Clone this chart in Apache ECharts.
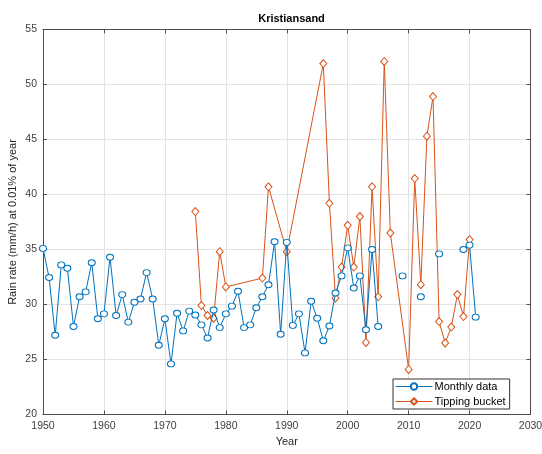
<!DOCTYPE html>
<html>
<head>
<meta charset="utf-8">
<script src="https://cdn.jsdelivr.net/npm/echarts@6/dist/echarts.min.js"></script>
<style>
  html, body { margin: 0; padding: 0; background: #fff; }
  #chart { width: 542px; height: 454px; }
</style>
</head>
<body>
<div id="chart"></div>
<script>
// Monthly-data estimate per year (null = no estimate, breaks the line)
const monthlyYears = [
  1950, 1951, 1952, 1953, 1954, 1955, 1956, 1957, 1958, 1959,
  1960, 1961, 1962, 1963, 1964, 1965, 1966, 1967, 1968, 1969,
  1970, 1971, 1972, 1973, 1974, 1975, 1976, 1977, 1978, 1979,
  1980, 1981, 1982, 1983, 1984, 1985, 1986, 1987, 1988, 1989,
  1990, 1991, 1992, 1993, 1994, 1995, 1996, 1997, 1998, 1999,
  2000, 2001, 2002, 2003, 2004, 2005, 2006, 2007, 2008, 2009,
  2010, 2011, 2012, 2013, 2014, 2015, 2016, 2017, 2018, 2019,
  2020, 2021
];
const monthlyValues = [
  35.1, 32.45, 27.2, 33.6, 33.3, 28.0, 30.7, 31.15, 33.8, 28.7,
  29.15, 34.3, 29.0, 30.9, 28.4, 30.2, 30.5, 32.9, 30.5, 26.3,
  28.7, 24.6, 29.2, 27.6, 29.4, 29.05, 28.15, 26.95, 29.5, 27.9,
  29.15, 29.85, 31.2, 27.9, 28.15, 29.7, 30.7, 31.8, 35.7, 27.3,
  35.65, 28.1, 29.15, 25.6, 30.3, 28.75, 26.7, 28.05, 31.05, 32.6,
  35.15, 31.5, 32.6, 27.7, 35.0, 28.0, null, null, null, 32.6,
  null, null, 30.7, null, null, 34.6, null, null, null, 35.0,
  35.4, 28.85
];

// Tipping-bucket estimate, only the years that have one
const bucketYears = [
  1975, 1976, 1977, 1978, 1979, 1980, 1986, 1987, 1990, 1996,
  1997, 1998, 1999, 2000, 2001, 2002, 2003, 2004, 2005, 2006,
  2007, 2010, 2011, 2012, 2013, 2014, 2015, 2016, 2017, 2018,
  2019, 2020
];
const bucketValues = [
  38.45, 29.9, 29.0, 28.75, 34.8, 31.6, 32.4, 40.7, 34.8, 51.9,
  39.2, 30.6, 33.4, 37.2, 33.4, 38.0, 26.55, 40.7, 30.7, 52.1,
  36.5, 24.1, 41.45, 31.8, 45.3, 48.9, 28.45, 26.5, 27.95, 30.9,
  28.9, 35.9
];

const titleText = 'Kristiansand';
const xName = 'Year';
const yName = 'Rain rate (mm/h) at 0.01% of year';
const seriesNames = ['Monthly data', 'Tipping bucket'];

const BLUE = '#0072BD';
const ORANGE = '#D95319';
const AXIS = '#4d4d4d';
const GRID = '#e3e3e3';
const FONT = '"Liberation Sans", Arial, Helvetica, sans-serif';

const monthlyData = monthlyYears.map((y, i) => [y, monthlyValues[i]]);
const bucketData = bucketYears.map((y, i) => [y, bucketValues[i]]);

const chart = echarts.init(document.getElementById('chart'), null, { renderer: 'canvas' });

// Unlabelled top/right axes close the plot box and carry inward ticks
const boxAxis = {
  axisLine: { show: true, lineStyle: { color: AXIS, width: 1 } },
  axisTick: { show: true, inside: true, length: 4, lineStyle: { color: AXIS } },
  axisLabel: { show: false },
  splitLine: { show: false }
};

chart.setOption({
  animation: false,
  backgroundColor: '#ffffff',
  textStyle: { fontFamily: FONT },
  title: {
    text: titleText,
    left: 286.5,
    textAlign: 'center',
    top: 8,
    textStyle: { fontSize: 11, fontWeight: 'bold', color: '#000', fontFamily: FONT }
  },
  grid: {
    left: 43, right: 11.5, top: 29.5, bottom: 39.5,
    containLabel: false,
    outerBoundsMode: 'none'
  },
  legend: {
    data: seriesNames,
    orient: 'vertical',
    left: 393,
    top: 379,
    itemWidth: 37,
    itemHeight: 8,
    itemGap: 4,
    padding: [2, 4, 2, 2],
    borderColor: '#333',
    borderWidth: 1,
    borderRadius: 0,
    backgroundColor: '#fff',
    lineStyle: { width: 1 },
    textStyle: { fontSize: 11, color: '#000', fontFamily: FONT, padding: [0, 0, 0, -3] }
  },
  xAxis: [
    {
      type: 'value',
      min: 1950, max: 2030, interval: 10,
      name: xName,
      nameLocation: 'middle',
      nameGap: 22,
      nameMoveOverlap: false,
      nameTextStyle: { fontSize: 11, color: '#262626', fontFamily: FONT },
      axisLine: { show: true, lineStyle: { color: AXIS, width: 1 } },
      axisTick: { show: true, inside: true, length: 4, lineStyle: { color: AXIS } },
      axisLabel: { fontSize: 10.5, color: '#404040', margin: 6, fontFamily: FONT, formatter: v => String(v) },
      splitLine: { show: true, lineStyle: { color: GRID, width: 1 } }
    },
    Object.assign({ type: 'value', position: 'top', min: 1950, max: 2030, interval: 10 }, boxAxis)
  ],
  yAxis: [
    {
      type: 'value',
      min: 20, max: 55, interval: 5,
      name: yName,
      nameLocation: 'middle',
      nameGap: 25,
      nameMoveOverlap: false,
      nameTextStyle: { fontSize: 11, color: '#262626', fontFamily: FONT },
      axisLine: { show: true, lineStyle: { color: AXIS, width: 1 } },
      axisTick: { show: true, inside: true, length: 4, lineStyle: { color: AXIS } },
      axisLabel: { fontSize: 10.5, color: '#404040', margin: 6, fontFamily: FONT },
      splitLine: { show: true, lineStyle: { color: GRID, width: 1 } }
    },
    Object.assign({ type: 'value', position: 'right', min: 20, max: 55, interval: 5 }, boxAxis)
  ],
  series: [
    {
      name: seriesNames[0],
      type: 'line',
      data: monthlyData,
      connectNulls: false,
      symbol: 'circle',
      symbolSize: [7, 6],
      showAllSymbol: true,
      lineStyle: { color: BLUE, width: 1 },
      itemStyle: { color: '#fff', borderColor: BLUE, borderWidth: 1 },
      z: 3
    },
    {
      name: seriesNames[1],
      type: 'line',
      data: bucketData,
      symbol: 'diamond',
      symbolSize: [7, 8],
      showAllSymbol: true,
      lineStyle: { color: ORANGE, width: 1 },
      itemStyle: { color: '#fff', borderColor: ORANGE, borderWidth: 1 },
      z: 2
    }
  ]
});
</script>
</body>
</html>
